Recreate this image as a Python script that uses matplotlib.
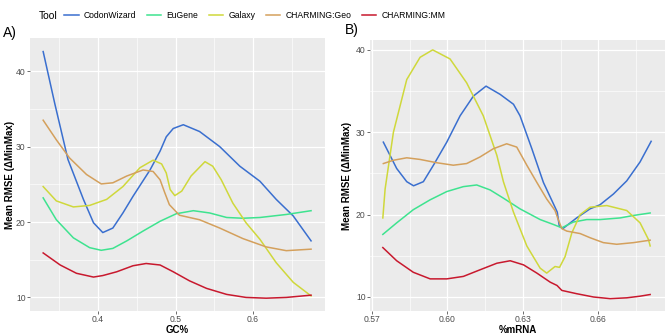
import matplotlib
matplotlib.use("Agg")
import matplotlib.pyplot as plt
from matplotlib.lines import Line2D
from matplotlib.ticker import MultipleLocator

plt.rcParams['font.family'] = ['Liberation Sans', 'DejaVu Sans']

tools = ["CodonWizard", "EuGene", "Galaxy", "CHARMING:Geo", "CHARMING:MM"]
colors = ["#3a6fcf", "#3ee38f", "#cfd83b", "#d4a05c", "#c8192e"]

# Panel A: GC%
gc_codon_x = [0.329, 0.344, 0.361, 0.381, 0.394, 0.406, 0.419, 0.432, 0.445, 0.467, 0.480,
              0.488, 0.497, 0.510, 0.531, 0.557, 0.583, 0.609, 0.630, 0.652, 0.675]
gc_codon_y = [42.6, 35.7, 28.3, 23.0, 19.9, 18.6, 19.2, 21.2, 23.4, 26.9, 29.4,
              31.3, 32.4, 32.9, 32.0, 30.0, 27.4, 25.4, 23.0, 20.8, 17.5]
gc_eugene_x = [0.329, 0.346, 0.368, 0.389, 0.404, 0.419, 0.437, 0.458, 0.480, 0.501, 0.523,
               0.544, 0.566, 0.587, 0.609, 0.643, 0.675]
gc_eugene_y = [23.2, 20.3, 17.9, 16.6, 16.25, 16.5, 17.5, 18.8, 20.1, 21.1, 21.5,
               21.2, 20.6, 20.5, 20.6, 21.0, 21.5]
gc_galaxy_x = [0.329, 0.346, 0.368, 0.389, 0.411, 0.432, 0.454, 0.471, 0.482, 0.488, 0.493,
               0.499, 0.508, 0.520, 0.538, 0.548, 0.559, 0.574, 0.591, 0.609, 0.630, 0.652, 0.675]
gc_galaxy_y = [24.7, 22.8, 22.0, 22.2, 23.0, 24.7, 27.2, 28.2, 27.7, 26.5, 24.3,
               23.5, 24.1, 26.1, 28.0, 27.4, 25.6, 22.5, 19.9, 17.7, 14.6, 12.0, 10.2]
gc_geo_x = [0.329, 0.346, 0.363, 0.385, 0.404, 0.419, 0.437, 0.458, 0.471, 0.480, 0.486,
            0.492, 0.505, 0.531, 0.557, 0.587, 0.617, 0.643, 0.675]
gc_geo_y = [33.5, 30.9, 28.5, 26.3, 25.05, 25.2, 26.1, 26.9, 26.7, 25.6, 23.9,
            22.3, 20.9, 20.3, 19.2, 17.8, 16.7, 16.2, 16.4]
gc_mm_x = [0.329, 0.351, 0.372, 0.394, 0.406, 0.424, 0.445, 0.462, 0.480, 0.497, 0.518,
           0.540, 0.566, 0.591, 0.617, 0.643, 0.675]
gc_mm_y = [15.9, 14.3, 13.2, 12.7, 12.9, 13.4, 14.2, 14.5, 14.3, 13.4, 12.2,
           11.2, 10.4, 10.0, 9.9, 10.0, 10.3]

# Panel B: %mRNA
mrna_codon_x = [0.5746, 0.5799, 0.5839, 0.5866, 0.5905, 0.5945, 0.5998, 0.6051, 0.6104, 0.6154,
                0.6210, 0.6263, 0.6289, 0.6336, 0.6382, 0.6428, 0.6437, 0.6445, 0.6459, 0.6514,
                0.6567, 0.6607, 0.6660, 0.6713, 0.6766, 0.6810]
mrna_codon_y = [28.8, 25.6, 24.0, 23.5, 24.0, 26.0, 28.8, 32.0, 34.4, 35.6,
                34.6, 33.4, 32.0, 28.0, 23.9, 20.9, 20.3, 18.6, 18.3, 19.6,
                20.7, 21.2, 22.5, 24.1, 26.4, 28.9]
mrna_eugene_x = [0.5744, 0.5799, 0.5865, 0.5932, 0.5998, 0.6064, 0.6117, 0.6170, 0.6223, 0.6289,
                 0.6369, 0.6422, 0.6455, 0.6501, 0.6554, 0.6607, 0.6687, 0.6740, 0.6806]
mrna_eugene_y = [17.6, 19.0, 20.6, 21.8, 22.8, 23.4, 23.6, 23.0, 22.0, 20.7,
                 19.4, 18.8, 18.4, 19.1, 19.4, 19.4, 19.6, 19.9, 20.2]
mrna_galaxy_x = [0.5744, 0.5753, 0.5786, 0.5839, 0.5892, 0.5942, 0.6011, 0.6077, 0.6143, 0.6197,
                 0.6223, 0.6263, 0.6316, 0.6369, 0.6395, 0.6428, 0.6446, 0.6468, 0.6495, 0.6528,
                 0.6567, 0.6634, 0.6713, 0.6766, 0.6799, 0.6806]
mrna_galaxy_y = [19.6, 23.1, 30.0, 36.4, 39.1, 40.0, 38.9, 36.0, 32.0, 27.2,
                 24.0, 20.3, 16.2, 13.5, 12.9, 13.7, 13.6, 14.9, 17.8, 20.0,
                 20.9, 21.1, 20.5, 19.0, 17.0, 16.2]
mrna_geo_x = [0.5746, 0.5786, 0.5839, 0.5892, 0.5958, 0.6024, 0.6077, 0.6130, 0.6183, 0.6236,
              0.6276, 0.6316, 0.6356, 0.6395, 0.6428, 0.6441, 0.6455, 0.6475, 0.6528, 0.6567,
              0.6620, 0.6673, 0.6740, 0.6806]
mrna_geo_y = [26.2, 26.6, 26.9, 26.7, 26.3, 26.0, 26.2, 27.0, 28.0, 28.6,
              28.2, 26.0, 23.9, 21.9, 20.5, 19.4, 18.3, 18.0, 17.7, 17.2,
              16.6, 16.4, 16.6, 16.9]
mrna_mm_x = [0.5744, 0.5799, 0.5865, 0.5932, 0.5998, 0.6064, 0.6130, 0.6197, 0.6250, 0.6303,
             0.6356, 0.6409, 0.6436, 0.6455, 0.6514, 0.6581, 0.6647, 0.6713, 0.6766, 0.6806]
mrna_mm_y = [16.0, 14.4, 13.0, 12.2, 12.2, 12.5, 13.3, 14.1, 14.4, 13.9,
             12.9, 11.8, 11.4, 10.8, 10.4, 10.0, 9.8, 9.9, 10.1, 10.3]

panel_a = [(gc_codon_x, gc_codon_y), (gc_eugene_x, gc_eugene_y), (gc_galaxy_x, gc_galaxy_y),
           (gc_geo_x, gc_geo_y), (gc_mm_x, gc_mm_y)]
panel_b = [(mrna_codon_x, mrna_codon_y), (mrna_eugene_x, mrna_eugene_y),
           (mrna_galaxy_x, mrna_galaxy_y), (mrna_geo_x, mrna_geo_y), (mrna_mm_x, mrna_mm_y)]

W, H = 669, 336
fig = plt.figure(figsize=(W / 100, H / 100), dpi=100)


def make_axes(left, top, right, bottom):
    return fig.add_axes([left / W, 1 - bottom / H, (right - left) / W, (bottom - top) / H])


def style(ax, xmajor, xminor):
    ax.set_facecolor("#ebebeb")
    for s in ax.spines.values():
        s.set_visible(False)
    ax.xaxis.set_major_locator(MultipleLocator(xmajor))
    ax.xaxis.set_minor_locator(MultipleLocator(xminor))
    ax.yaxis.set_major_locator(MultipleLocator(10))
    ax.yaxis.set_minor_locator(MultipleLocator(5))
    ax.grid(which="major", color="white", lw=0.9)
    ax.grid(which="minor", color="white", lw=0.45)
    ax.set_axisbelow(True)
    ax.tick_params(which="major", length=2, width=0.5, color="#333333",
                   labelsize=6.2, labelcolor="#4d4d4d", pad=1.2)
    ax.tick_params(which="minor", length=0)


axA = make_axes(30, 38, 325, 311)
for (x, y), c in zip(panel_a, colors):
    axA.plot(x, y, color=c, lw=1.1)
axA.set_xlim(0.312, 0.693)
axA.set_ylim(8.2, 44.4)
style(axA, 0.1, 0.05)
axA.set_xticks([0.4, 0.5, 0.6])
axA.set_xticklabels(["0.4", "0.5", "0.6"])
axA.set_xlabel("GC%", fontsize=7, fontweight="bold")
axA.set_ylabel("Mean RMSE (\u0394MinMax)", fontsize=7, fontweight="bold")
axA.xaxis.set_label_coords(0.5, -0.05)
axA.yaxis.set_label_coords(-0.052, 0.5)

axB = make_axes(370, 40, 665, 311)
for (x, y), c in zip(panel_b, colors):
    axB.plot(x, y, color=c, lw=1.1)
axB.set_xlim(0.5693, 0.6865)
axB.set_ylim(8.3, 41.2)
style(axB, 0.03, 0.015)
axB.set_xticks([0.57, 0.60, 0.63, 0.66])
axB.set_xticklabels(["0.57", "0.60", "0.63", "0.66"])
axB.set_xlabel("%mRNA", fontsize=7, fontweight="bold")
axB.set_ylabel("Mean RMSE (\u0394MinMax)", fontsize=7, fontweight="bold")
axB.xaxis.set_label_coords(0.5, -0.05)
axB.yaxis.set_label_coords(-0.06, 0.5)

fig.text(3 / W, 1 - 33 / H, "A)", fontsize=10, va="center", ha="left")
fig.text(345 / W, 1 - 30 / H, "B)", fontsize=10, va="center", ha="left")

handles = [Line2D([], [], color=c, lw=1.1) for c in colors]
fig.text(39 / W, 1 - 16 / H, "Tool", fontsize=7.4, va="center", ha="left")
fig.legend(handles, tools, ncol=5, loc="center left", bbox_to_anchor=(64 / W, 1 - 16 / H),
           frameon=False, fontsize=6.2, handlelength=1.7, handletextpad=0.6,
           columnspacing=1.2, borderpad=0, borderaxespad=0)

fig.savefig("out.png", dpi=100)
